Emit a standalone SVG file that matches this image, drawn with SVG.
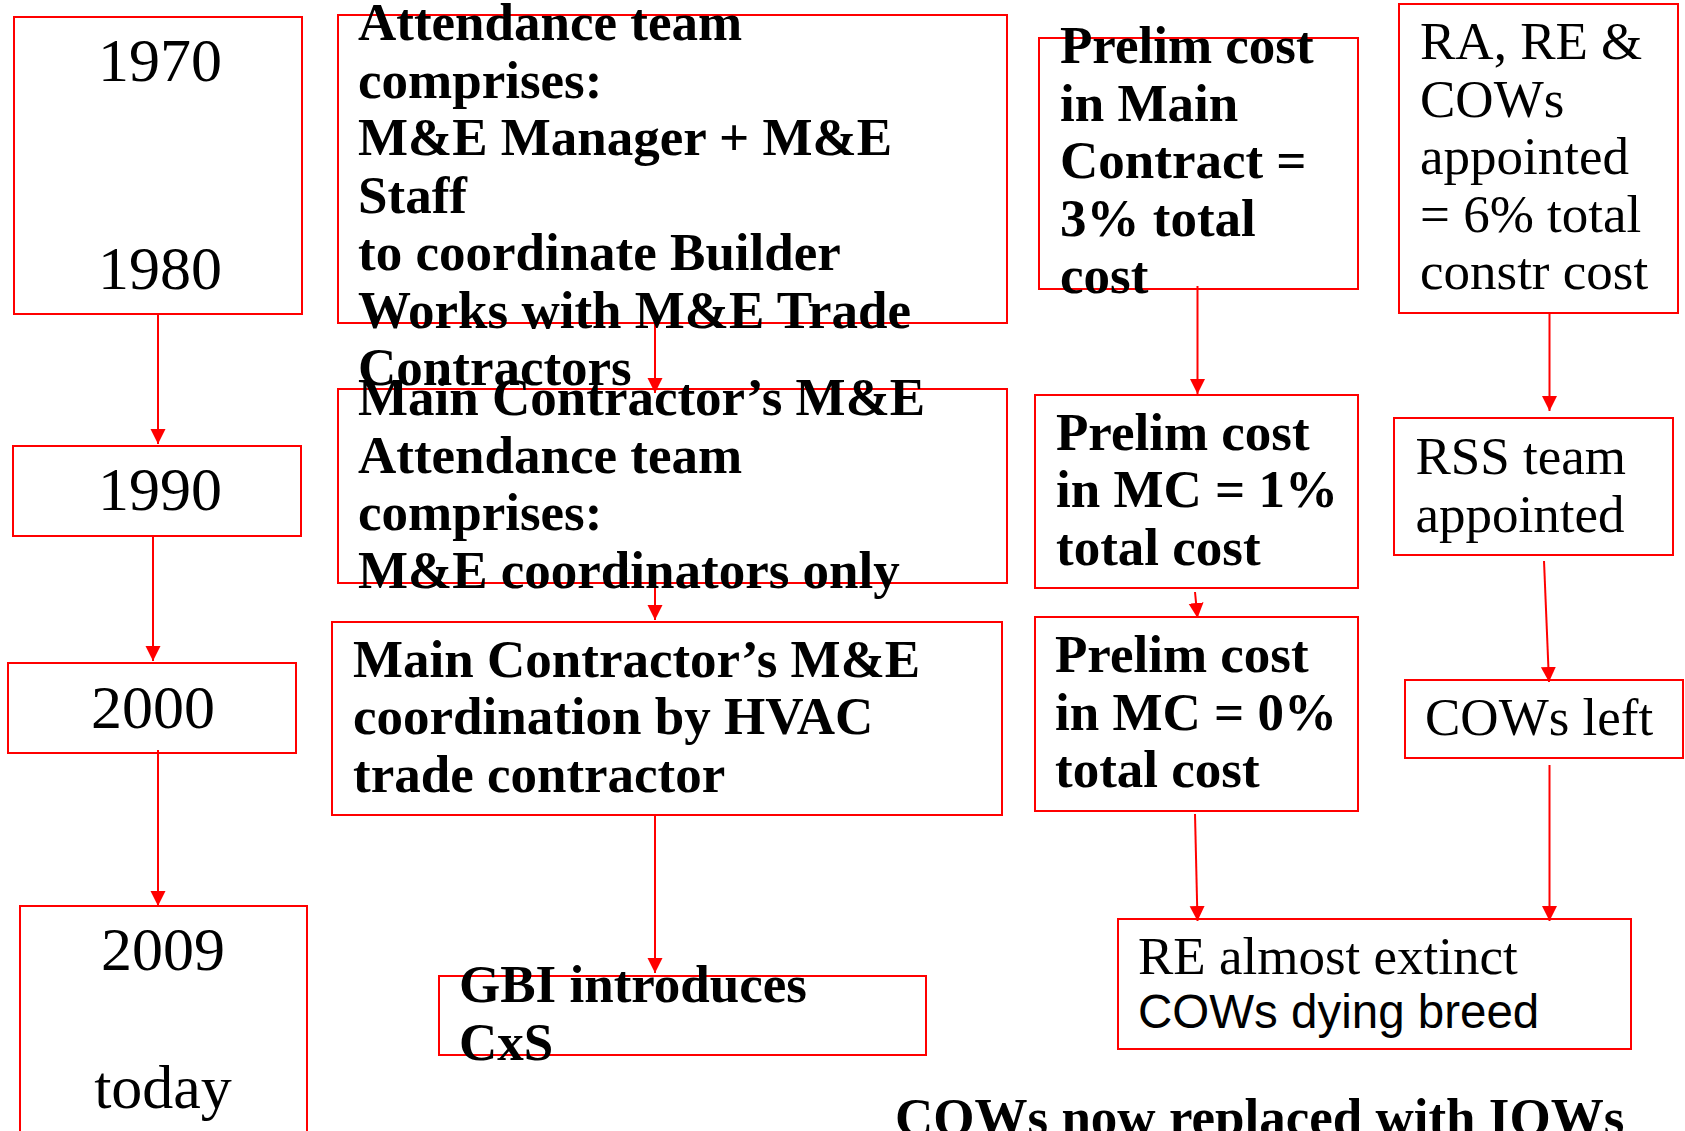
<svg xmlns="http://www.w3.org/2000/svg" width="1685" height="1131" viewBox="0 0 1685 1131">
<style>
.box{fill:none;stroke:#ff0000;stroke-width:2}
.c{stroke:#ff0000;stroke-width:2;fill:none;marker-end:url(#ah)}
.yr{font-family:"Liberation Serif","Times New Roman",serif;font-size:62px;fill:#000;text-anchor:middle}
.b{font-family:"Liberation Serif","Times New Roman",serif;font-size:53px;font-weight:bold;fill:#000}
.r{font-family:"Liberation Serif","Times New Roman",serif;font-size:53px;fill:#000}
.s{font-family:"Liberation Sans",Arial,sans-serif;font-size:47.5px;fill:#000}
</style>
<defs>
<marker id="ah" markerUnits="userSpaceOnUse" markerWidth="16" markerHeight="16" refX="15" refY="7.5" orient="auto">
<path d="M0,0 L15,7.5 L0,15 z" fill="#ff0000"/>
</marker>
</defs>
<rect width="1685" height="1131" fill="#fff"/>
<g id="connectors">
<line class="c" x1="158" y1="315" x2="158" y2="444"/>
<line class="c" x1="153" y1="536" x2="153" y2="661"/>
<line class="c" x1="158" y1="750" x2="158" y2="906"/>
<line class="c" x1="655" y1="322" x2="655" y2="393"/>
<line class="c" x1="655" y1="583" x2="655" y2="620"/>
<line class="c" x1="655" y1="814" x2="655" y2="973"/>
<line class="c" x1="1197.5" y1="286" x2="1197.5" y2="394"/>
<line class="c" x1="1195" y1="592" x2="1197.5" y2="618"/>
<line class="c" x1="1195" y1="814" x2="1197.5" y2="921"/>
<line class="c" x1="1549.5" y1="313" x2="1549.5" y2="411"/>
<line class="c" x1="1544" y1="561" x2="1549" y2="682"/>
<line class="c" x1="1549.5" y1="765" x2="1549.5" y2="921"/>
</g>
<g id="n1970">
<rect class="box" x="14" y="17" width="288" height="297"/>
<text class="yr" x="160" y="81">1970</text>
<text class="yr" x="160" y="289">1980</text>
</g>
<g id="n1990">
<rect class="box" x="13" y="446" width="288" height="90"/>
<text class="yr" x="160" y="510">1990</text>
</g>
<g id="n2000">
<rect class="box" x="8" y="663" width="288" height="90"/>
<text class="yr" x="153" y="728">2000</text>
</g>
<g id="n2009">
<rect class="box" x="20" y="906" width="287" height="300"/>
<text class="yr" x="163" y="970">2009</text>
<text class="yr" x="163" y="1108">today</text>
</g>
<g id="attendance1">
<rect class="box" x="338" y="15" width="669" height="308"/>
<text class="b" x="358" y="40"><tspan x="358">Attendance team</tspan><tspan x="358" dy="57.5">comprises:</tspan><tspan x="358" dy="57.5">M&amp;E Manager + M&amp;E</tspan><tspan x="358" dy="57.5">Staff</tspan><tspan x="358" dy="57.5">to coordinate Builder</tspan><tspan x="358" dy="57.5">Works with M&amp;E Trade</tspan><tspan x="358" dy="57.5">Contractors</tspan></text>
</g>
<g id="attendance2">
<rect class="box" x="338" y="389" width="669" height="194"/>
<text class="b" x="358" y="415"><tspan x="358">Main Contractor’s M&amp;E</tspan><tspan x="358" dy="57.5">Attendance team</tspan><tspan x="358" dy="57.5">comprises:</tspan><tspan x="358" dy="57.5">M&amp;E coordinators only</tspan></text>
</g>
<g id="hvac">
<rect class="box" x="332" y="622" width="670" height="193"/>
<text class="b" x="353" y="676.5"><tspan x="353">Main Contractor’s M&amp;E</tspan><tspan x="353" dy="57.5">coordination by HVAC</tspan><tspan x="353" dy="57.5">trade contractor</tspan></text>
</g>
<g id="gbi">
<rect class="box" x="439" y="976" width="487" height="79"/>
<text class="b" x="459" y="1001.5"><tspan x="459">GBI introduces</tspan><tspan x="459" dy="58">CxS</tspan></text>
</g>
<g id="prelim3">
<rect class="box" x="1039" y="38" width="319" height="251"/>
<text class="b" x="1060" y="63"><tspan x="1060">Prelim cost</tspan><tspan x="1060" dy="57.6">in Main</tspan><tspan x="1060" dy="57.6">Contract =</tspan><tspan x="1060" dy="57.6">3% total</tspan><tspan x="1060" dy="57.6">cost</tspan></text>
</g>
<g id="prelim1">
<rect class="box" x="1035" y="395" width="323" height="193"/>
<text class="b" x="1056" y="449.5"><tspan x="1056">Prelim cost</tspan><tspan x="1056" dy="57.5">in MC = 1%</tspan><tspan x="1056" dy="57.5">total cost</tspan></text>
</g>
<g id="prelim0">
<rect class="box" x="1035" y="617" width="323" height="194"/>
<text class="b" x="1055" y="672"><tspan x="1055">Prelim cost</tspan><tspan x="1055" dy="57.5">in MC = 0%</tspan><tspan x="1055" dy="57.5">total cost</tspan></text>
</g>
<g id="ra">
<rect class="box" x="1399" y="4" width="279" height="309"/>
<text class="r" x="1420" y="59"><tspan x="1420">RA, RE &amp;</tspan><tspan x="1420" dy="57.5">COWs</tspan><tspan x="1420" dy="57.5">appointed</tspan><tspan x="1420" dy="57.5">= 6% total</tspan><tspan x="1420" dy="57.5">constr cost</tspan></text>
</g>
<g id="rss">
<rect class="box" x="1394" y="418" width="279" height="137"/>
<text class="r" x="1415.5" y="474"><tspan x="1415.5">RSS team</tspan><tspan x="1415.5" dy="57.5">appointed</tspan></text>
</g>
<g id="cowsleft">
<rect class="box" x="1405" y="680" width="278" height="78"/>
<text class="r" x="1425" y="734.5">COWs left</text>
</g>
<g id="extinct">
<rect class="box" x="1118" y="919" width="513" height="130"/>
<text class="r" x="1138" y="973.5">RE almost extinct</text>
<text class="s" x="1138" y="1028">COWs dying breed</text>
</g>
<g id="footer">
<text class="b" x="895" y="1135">COWs now replaced with IOWs</text>
</g>
</svg>
